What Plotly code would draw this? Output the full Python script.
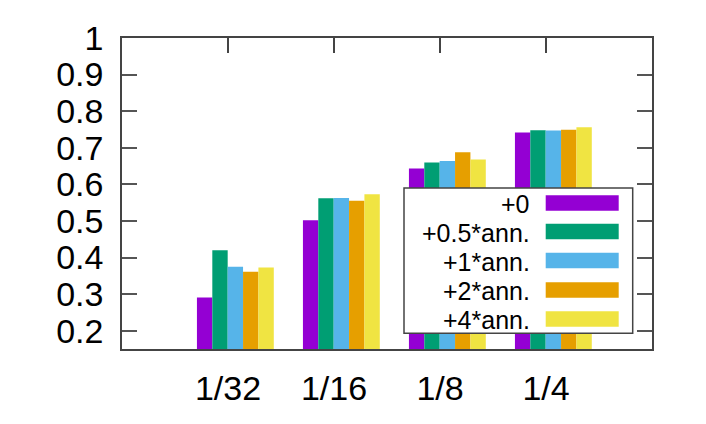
import plotly.graph_objects as go

categories = ["1/32", "1/16", "1/8", "1/4"]
series_names = ["+0", "+0.5*ann.", "+1*ann.", "+2*ann.", "+4*ann."]
v_plus0 = [0.291, 0.502, 0.643, 0.742]
v_half = [0.420, 0.562, 0.660, 0.748]
v_one = [0.375, 0.563, 0.664, 0.747]
v_two = [0.361, 0.555, 0.688, 0.749]
v_four = [0.373, 0.573, 0.668, 0.756]
y_tick_vals = [0.2, 0.3, 0.4, 0.5, 0.6, 0.7, 0.8, 0.9, 1]
y_tick_text = ["0.2", "0.3", "0.4", "0.5", "0.6", "0.7", "0.8", "0.9", "1"]

series_values = [v_plus0, v_half, v_one, v_two, v_four]
colors = ["#9400D3", "#009E73", "#56B4E9", "#E69F00", "#F0E442"]

# page body has an 8px margin; work in page pixels and convert
PAGE_OFF = 8
W, H = 706 - 2 * PAGE_OFF, 424 - 2 * PAGE_OFF
L, R, T, B = 122 - PAGE_OFF, 652 - PAGE_OFF, 38 - PAGE_OFF, 349 - PAGE_OFF
FONT = "Liberation Sans, Arial, sans-serif"

xpos = list(range(len(categories)))
bar_w = 0.145
offsets = [-0.293 + i * bar_w for i in range(5)]

fig = go.Figure()
for i, (name, vals) in enumerate(zip(series_names, series_values)):
    fig.add_trace(go.Bar(
        x=xpos, y=vals, name=name, width=bar_w, offset=offsets[i],
        marker=dict(color=colors[i], line=dict(width=0)),
        showlegend=False,
    ))


def px2x(px):
    return (px - PAGE_OFF - L) / (R - L)


def px2y(py):
    return (B - (py - PAGE_OFF)) / (B - T)


shapes = []
annotations = []
# legend box
shapes.append(dict(type="rect", xref="paper", yref="paper",
                   x0=px2x(404), x1=px2x(632.7), y0=px2y(333.3), y1=px2y(188),
                   fillcolor="white", line=dict(color="#444", width=1.5), layer="above"))
row_centers = [203, 231.5, 260.5, 290, 319]
for i, name in enumerate(series_names):
    cy = row_centers[i]
    shapes.append(dict(type="rect", xref="paper", yref="paper",
                       x0=px2x(545.7), x1=px2x(618.7), y0=px2y(cy + 7.7), y1=px2y(cy - 7.7),
                       fillcolor=colors[i], line=dict(width=0), layer="above"))
    annotations.append(dict(text=name, xref="paper", yref="paper",
                            x=px2x(532), y=px2y(cy + 1), xanchor="right", yanchor="middle",
                            showarrow=False, font=dict(family=FONT, size=25, color="black")))

fig.update_layout(
    width=W, height=H,
    margin=dict(l=L, r=W - R, t=T, b=H - B, autoexpand=False),
    paper_bgcolor="white", plot_bgcolor="white",
    barmode="overlay",
    font=dict(family=FONT, size=34, color="black"),
    xaxis=dict(range=[-1, 4], tickvals=xpos, ticktext=categories,
               ticks="", showgrid=False, zeroline=False,
               showline=True, linecolor="#444", linewidth=1.5, mirror=True,
               ticklabelstandoff=8,
               tickfont=dict(family=FONT, size=34, color="black")),
    xaxis2=dict(range=[-1, 4], tickvals=xpos, overlaying="x", side="top",
                ticks="inside", ticklen=15, tickcolor="#444", tickwidth=1.5,
                showticklabels=False, showgrid=False, zeroline=False, showline=False),
    yaxis=dict(range=[0.15, 1], tickvals=y_tick_vals, ticktext=y_tick_text,
               ticks="inside", ticklen=15, tickcolor="#555", tickwidth=1.5,
               showgrid=False, zeroline=False,
               showline=True, linecolor="#444", linewidth=1.5, mirror="ticks",
               ticklabelstandoff=10,
               tickfont=dict(family=FONT, size=34, color="black")),
    shapes=shapes, annotations=annotations,
)
# invisible trace to make xaxis2 render
fig.add_trace(go.Scatter(x=[None], y=[None], xaxis="x2", showlegend=False, hoverinfo="skip"))

fig.write_html("out.html")
